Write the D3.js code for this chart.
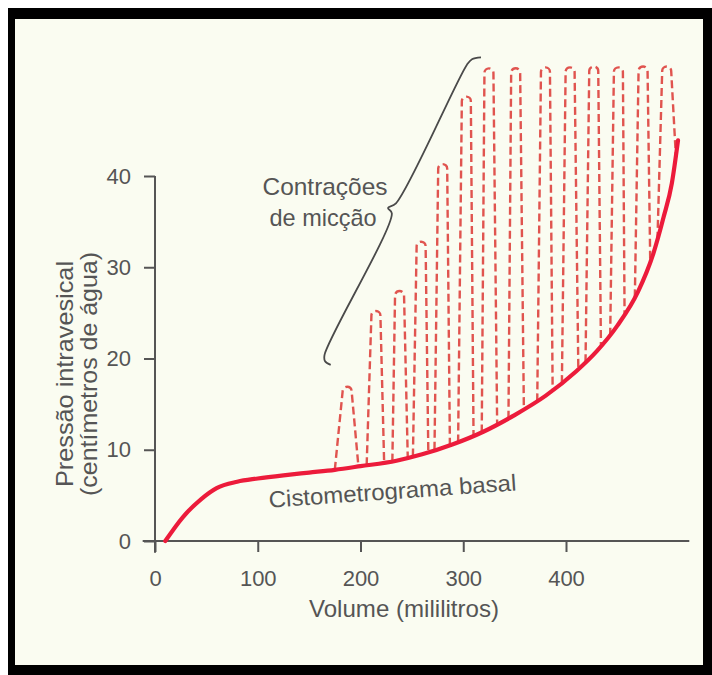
<!DOCTYPE html>
<html>
<head>
<meta charset="utf-8">
<script src="https://cdn.jsdelivr.net/npm/d3@7"></script>
<style>
body { margin: 0; background: #fff; }
text { font-family: "Liberation Sans", Arial, Helvetica, sans-serif; fill: #555; }
</style>
</head>
<body>
<svg id="canvas" width="712" height="675"></svg>
<script>
const width = 712
const height = 675

// cistometrograma basal (volume ml -> pressao cm H2O)
const basalVolume = [10, 27, 45, 60, 80, 100, 125, 150, 175, 200, 235, 260, 290, 320, 350, 380, 410, 430, 450, 470, 485, 495, 503, 509]
const basalPressure = [0, 2.6, 4.6, 5.8, 6.5, 6.85, 7.2, 7.5, 7.8, 8.2, 8.8, 9.5, 10.6, 12.0, 13.8, 15.9, 18.6, 20.8, 23.6, 27.3, 31.5, 35.5, 39.2, 43.9]

// contracoes de miccao: inicio, pico, fim
const contractionStart = [175, 206, 231, 251, 272, 295, 318, 344, 372, 396, 419, 443, 467, 489]
const contractionStartPressure = [7.8, 8.3, 8.7, 9.25, 10.0, 10.8, 11.9, 13.4, 15.3, 17.3, 19.6, 22.5, 26.7, 33.0]
const contractionPeakVolume = [187, 215, 238, 259, 280, 303, 325, 351, 380, 404, 427, 451, 475, 498]
const contractionPeak = [16.9, 25.2, 27.4, 32.8, 41.3, 48.7, 51.8, 51.8, 51.9, 51.9, 52.0, 51.9, 52.0, 52.0]
const contractionEnd = [198, 223, 246, 266, 287, 310, 333, 359, 387, 412, 434, 457, 482, 507]
const contractionEndPressure = [8.15, 8.6, 9.1, 9.7, 10.5, 11.5, 12.7, 14.4, 16.5, 18.8, 21.3, 24.8, 30.4, 42.0]

const xTicks = [0, 100, 200, 300, 400]
const yTicks = [0, 10, 20, 30, 40]

// chave (brace) em unidades do grafico
const braceVolume = [171, 165.5, 165, 230.5, 226.8, 234.5, 303.6, 308.5, 317.3]
const bracePressure = [19.3, 19.7, 20.4, 35.9, 36.5, 37.0, 52.2, 52.8, 53.0]

const canvas = d3.select("#canvas")

// moldura preta
canvas.append("rect")
    .attr("x", 8).attr("y", 8)
    .attr("width", width - 8).attr("height", height - 8)
    .attr("fill", "#000")
canvas.append("rect")
    .attr("x", 15).attr("y", 19)
    .attr("width", 688).attr("height", 646)
    .attr("fill", "#fafcf1")

const x = d3.scaleLinear().domain([0, 400]).range([155, 566])
const y = d3.scaleLinear().domain([0, 40]).range([541, 176])

const axisColor = "#555"

// linhas dos eixos
canvas.append("line")
    .attr("x1", x(-12)).attr("x2", x(520))
    .attr("y1", y(0)).attr("y2", y(0))
    .attr("stroke", axisColor).attr("stroke-width", 2)
canvas.append("line")
    .attr("x1", x(0)).attr("x2", x(0))
    .attr("y1", y(40)).attr("y2", y(-1.3))
    .attr("stroke", axisColor).attr("stroke-width", 2)

const xAxis = canvas.append("g")
    .attr("transform", `translate(0,${y(0)})`)
    .call(d3.axisBottom(x).tickValues(xTicks).tickSize(11).tickSizeOuter(0))
xAxis.select(".domain").remove()
xAxis.selectAll("line").attr("stroke", axisColor).attr("stroke-width", 2)
xAxis.selectAll("text")
    .attr("y", 45).attr("dy", 0)
    .attr("font-size", 22)

const yAxis = canvas.append("g")
    .attr("transform", `translate(${x(0)},0)`)
    .call(d3.axisLeft(y).tickValues(yTicks).tickSize(11).tickSizeOuter(0))
yAxis.select(".domain").remove()
yAxis.selectAll("line").attr("stroke", axisColor).attr("stroke-width", 2)
yAxis.selectAll("text")
    .attr("x", -24)
    .attr("font-size", 22)

// contracoes (tracejado): pernas retas e topo arredondado
const capRadius = 4.5
function loopPath(d) {
    const p = d3.path()
    const xp = x(d.peakVolume), yp = y(d.peak)
    p.moveTo(x(d.start), y(d.startPressure))
    p.lineTo(xp - capRadius, yp + capRadius)
    p.arc(xp, yp + capRadius, capRadius, Math.PI, 2 * Math.PI)
    p.lineTo(x(d.end), y(d.endPressure))
    return p.toString()
}

const contractions = contractionStart.map((s, i) => ({
    start: s,
    startPressure: contractionStartPressure[i],
    peakVolume: contractionPeakVolume[i],
    peak: contractionPeak[i],
    end: contractionEnd[i],
    endPressure: contractionEndPressure[i]
}))

canvas.append("g").selectAll("path")
    .data(contractions)
    .enter().append("path")
    .attr("d", loopPath)
    .attr("fill", "none")
    .attr("stroke", "#e0544f")
    .attr("stroke-width", 2.4)
    .attr("stroke-dasharray", "8,4")

// curva basal
const basal = basalVolume.map((v, i) => [v, basalPressure[i]])
canvas.append("path")
    .datum(basal)
    .attr("d", d3.line().x(d => x(d[0])).y(d => y(d[1])).curve(d3.curveMonotoneX))
    .attr("fill", "none")
    .attr("stroke", "#ec1b3b")
    .attr("stroke-width", 4.2)
    .attr("stroke-linecap", "round")

// chave
const brace = braceVolume.map((v, i) => [v, bracePressure[i]])
canvas.append("path")
    .datum(brace)
    .attr("d", d3.line().x(d => x(d[0])).y(d => y(d[1])).curve(d3.curveCatmullRom.alpha(0.5)))
    .attr("fill", "none")
    .attr("stroke", "#4a4a4a")
    .attr("stroke-width", 1.8)

function label(str, px, py, size, len, angle) {
    const t = canvas.append("text")
        .attr("transform", `translate(${px},${py}) rotate(${angle || 0})`)
        .attr("text-anchor", "middle")
        .attr("font-size", size)
        .text(str)
    if (len) t.attr("textLength", len).attr("lengthAdjust", "spacingAndGlyphs")
    return t
}

label("Contrações", 325, 195, 24, 125)
label("de micção", 323, 226, 24, 107)
label("Cistometrograma basal", 393, 499, 23, 248, -4)
label("Volume (mililitros)", 404, 617, 24, 190)
label("Pressão intravesical", 73, 374, 24, 226, -90)
label("(centímetros de água)", 97, 374, 24, 244, -90)
</script>
</body>
</html>
